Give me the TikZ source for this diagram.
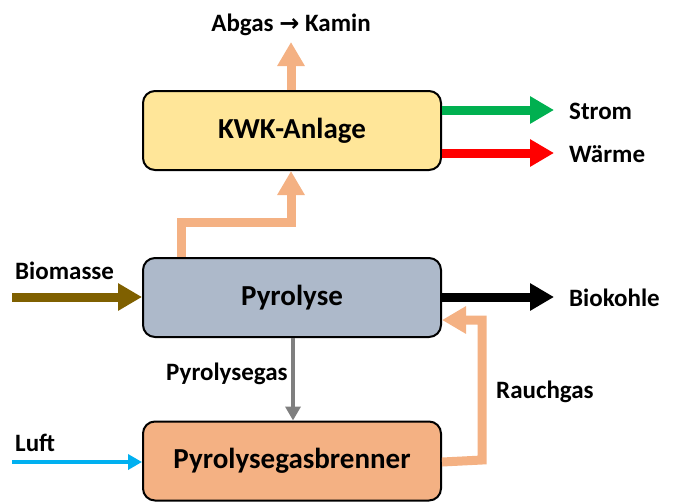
\documentclass[tikz,border=0pt]{standalone}
\usepackage{fontspec}
\setmainfont{Carlito}
\newfontfamily\symfont{DejaVu Sans}
\usetikzlibrary{arrows.meta}
\definecolor{peach}{HTML}{F4B183}
\definecolor{kwkfill}{HTML}{FFE699}
\definecolor{pyrfill}{HTML}{ADB9CA}
\definecolor{brnfill}{HTML}{F4B183}
\definecolor{strom}{HTML}{00B050}
\definecolor{waerme}{HTML}{FF0000}
\definecolor{biom}{HTML}{7F6000}
\definecolor{pgas}{HTML}{7F7F7F}
\definecolor{luft}{HTML}{00B0F0}
\tikzset{
  box/.style={draw=black, line width=2pt, rounded corners=12pt, minimum width=298pt, minimum height=79pt, inner sep=0pt, font=\bfseries\fontsize{29}{34}\selectfont},
  lbl/.style={font=\bfseries\fontsize{25}{30}\selectfont, inner sep=0pt},
  thick arrow/.style={line width=9pt, -{Triangle[length=24pt, width=26pt]}},
  thin arrow/.style={line width=4.5pt, -{Triangle[length=14pt, width=15pt]}},
}
\begin{document}
\begin{tikzpicture}[x=1pt,y=-1pt]
\useasboundingbox (0,0) rectangle (695,503);
% boxes
\node[box, fill=kwkfill] (kwk) at (292,130.5) {KWK-Anlage};
\node[box, fill=pyrfill] (pyr) at (292,297.5) {Pyrolyse};
\node[box, fill=brnfill] (brn) at (292,461) {Pyrolysegasbrenner};
% coordinates
\coordinate (abgasEnd) at (291,42);
\coordinate (stromEnd) at (554,110);
\coordinate (waermeEnd) at (554,153);
\coordinate (biomStart) at (12,297);
\coordinate (biokEnd) at (554,297);
\coordinate (luftStart) at (12,462);
% labels
\node[lbl] (abgas) at (291,25) {Abgas {\symfont\bfseries\fontsize{24}{28}\selectfont →} Kamin};
\node[lbl, anchor=west] (stromL) at (569,111) {Strom};
\node[lbl, anchor=west] (waermeL) at (569,154) {Wärme};
\node[lbl, anchor=west] (biomL) at (15,271) {Biomasse};
\node[lbl, anchor=west] (biokL) at (569,298) {Biokohle};
\node[lbl, anchor=west] (pgasL) at (166,374) {Pyrolysegas};
\node[lbl, anchor=west] (rauchL) at (496,392) {Rauchgas};
\node[lbl, anchor=west] (luftL) at (15,443) {Luft};
% arrows
\draw[thick arrow, draw=peach] (kwk.north -| abgasEnd) -- (abgasEnd);
\draw[thick arrow, draw=peach] ([xshift=-111pt]pyr.north) |- (291,222) -- (kwk.south -| abgasEnd);
\draw[thick arrow, draw=strom] (kwk.east |- stromEnd) -- (stromEnd);
\draw[thick arrow, draw=waerme] (kwk.east |- waermeEnd) -- (waermeEnd);
\draw[thick arrow, draw=biom] (biomStart) -- (pyr.west |- biomStart);
\draw[thick arrow, draw=black] (pyr.east |- biokEnd) -- (biokEnd);
\draw[thin arrow, draw=pgas] (pyr.south -| 293,0) -- (brn.north -| 293,0);
\draw[thin arrow, draw=luft] (luftStart) -- (brn.west |- luftStart);
\draw[thick arrow, draw=peach] ([yshift=-1pt]brn.east) -- (482,460) -- (482,320) -- (pyr.east |- 0,320);
\end{tikzpicture}
\end{document}
